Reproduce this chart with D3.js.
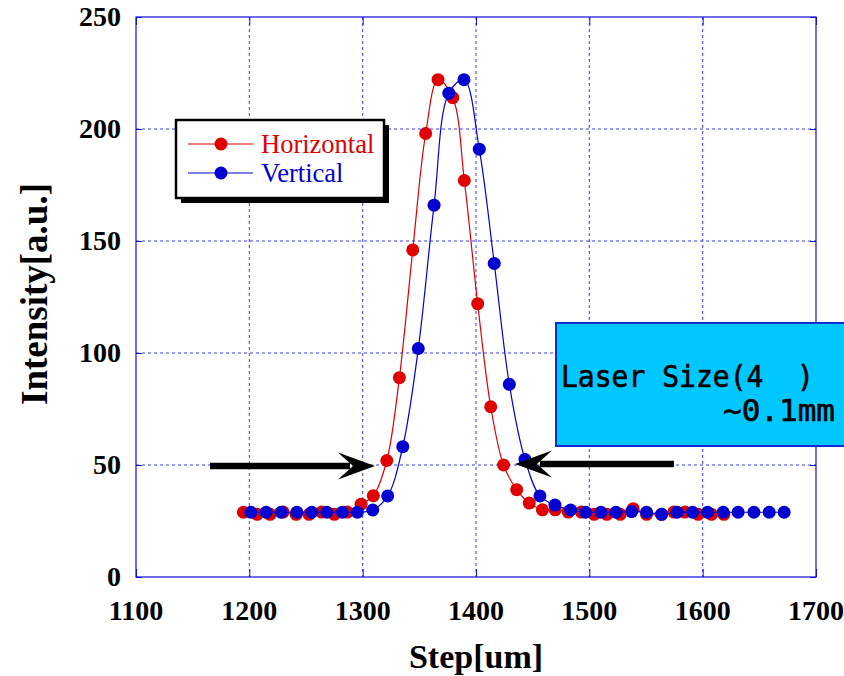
<!DOCTYPE html>
<html lang="en">
<head>
    <meta charset="UTF-8">
    <title>Laser profile</title>
    <script src="https://d3js.org/d3.v7.min.js"></script>
<style>
    body { margin: 0; background: #fff; }
    .tick-label { font-family: "Liberation Serif", serif; font-weight: bold; font-size: 28px; fill: #000; }
    .title { font-family: "Liberation Serif", serif; font-weight: bold; fill: #000; }
    .grid { stroke: #3a3aff; stroke-width: 1; stroke-dasharray: 3,3; }
    .frame { fill: none; stroke: #1010e0; stroke-width: 1.2; }
</style>
</head>
<body>
    <svg id="canvas" width="844" height="676"></svg>

    <script>
        // values
        var xTicks = [1100, 1200, 1300, 1400, 1500, 1600, 1700];
        var yTicks = [0, 50, 100, 150, 200, 250];

        var redStep = [1194.8, 1206.9, 1218.3, 1229.8, 1241.3, 1252.7, 1263.9, 1275.0, 1286.5, 1298.6,
                       1309.4, 1321.3, 1332.4, 1344.2, 1355.6, 1366.5, 1379.5, 1389.7, 1401.5, 1413.0,
                       1424.3, 1435.9, 1447.0, 1458.6, 1469.9, 1481.4, 1492.9, 1504.3, 1515.5, 1527.2,
                       1538.7, 1550.5, 1563.7, 1574.6, 1584.3, 1596.0, 1607.8, 1618.7];
        var redIntensity = [28.9, 28.0, 28.0, 29.0, 28.0, 28.0, 29.0, 28.0, 29.0, 32.5,
                            36.3, 52.0, 89.0, 146.0, 198.0, 222.0, 214.0, 177.0, 122.0, 76.0,
                            50.0, 39.0, 33.0, 30.0, 30.0, 29.0, 29.0, 28.0, 28.0, 28.0,
                            30.5, 28.0, 28.0, 29.0, 29.0, 28.0, 28.0, 28.0];

        var blueStep = [1201.3, 1214.8, 1228.0, 1241.9, 1255.1, 1268.3, 1282.1, 1295.3, 1308.9, 1322.1,
                        1335.4, 1349.1, 1363.0, 1376.0, 1389.4, 1402.9, 1416.1, 1429.4, 1443.2, 1456.4,
                        1469.7, 1483.5, 1496.7, 1510.2, 1523.5, 1537.3, 1550.5, 1563.8, 1577.5, 1591.1,
                        1604.3, 1618.1, 1631.3, 1645.2, 1658.7, 1671.9];
        var blueIntensity = [28.9, 28.9, 28.9, 28.9, 28.9, 28.9, 28.9, 28.9, 29.9, 36.2,
                             58.2, 102.0, 166.0, 216.0, 222.0, 191.0, 140.0, 86.0, 52.5, 36.2,
                             32.1, 29.9, 28.9, 28.9, 28.9, 29.2, 28.9, 28.0, 28.9, 28.9,
                             28.9, 28.9, 28.9, 28.9, 28.9, 28.9];

        var seriesNames = ["Horizontal", "Vertical"];
        var seriesColors = ["#e00000", "#0000d0"];

        var svg = d3.select('svg');

        var plotLeft = 136, plotRight = 816, plotTop = 17, plotBottom = 577;

        var x = d3.scaleLinear().domain([1100, 1700]).range([plotLeft, plotRight]);
        var y = d3.scaleLinear().domain([0, 250]).range([plotBottom, plotTop]);

        // grid
        svg.selectAll(".gx").data(xTicks.slice(1, -1)).enter().append("line")
            .attr("class", "grid")
            .attr("x1", function(d){return x(d);}).attr("x2", function(d){return x(d);})
            .attr("y1", plotTop).attr("y2", plotBottom);
        svg.selectAll(".gy").data(yTicks.slice(1, -1)).enter().append("line")
            .attr("class", "grid")
            .attr("y1", function(d){return y(d);}).attr("y2", function(d){return y(d);})
            .attr("x1", plotLeft).attr("x2", plotRight);

        // axes with inner ticks
        var axB = svg.append("g").attr("transform", "translate(0," + plotBottom + ")")
            .call(d3.axisTop(x).tickValues(xTicks).tickSize(8).tickFormat(""));
        var axT = svg.append("g").attr("transform", "translate(0," + plotTop + ")")
            .call(d3.axisBottom(x).tickValues(xTicks).tickSize(8).tickFormat(""));
        var axL = svg.append("g").attr("transform", "translate(" + plotLeft + ",0)")
            .call(d3.axisRight(y).tickValues(yTicks).tickSize(6).tickFormat(""));
        var axR = svg.append("g").attr("transform", "translate(" + plotRight + ",0)")
            .call(d3.axisLeft(y).tickValues(yTicks).tickSize(6).tickFormat(""));
        [axB, axT, axL, axR].forEach(function(a){
            a.select(".domain").remove();
            a.selectAll("line").attr("stroke", "#1010e0");
        });

        svg.append("rect").attr("class", "frame")
            .attr("x", plotLeft).attr("y", plotTop)
            .attr("width", plotRight - plotLeft).attr("height", plotBottom - plotTop);

        // tick labels
        svg.selectAll(".xl").data(xTicks).enter().append("text")
            .attr("class", "tick-label")
            .attr("x", function(d){return x(d);}).attr("y", 620)
            .attr("text-anchor", "middle")
            .text(function(d){return d;});
        svg.selectAll(".yl").data(yTicks).enter().append("text")
            .attr("class", "tick-label")
            .attr("x", 121).attr("y", function(d){return y(d) + 9;})
            .attr("text-anchor", "end")
            .text(function(d){return d;});

        // titles
        svg.append("text").attr("class", "title")
            .attr("x", 476).attr("y", 668).attr("text-anchor", "middle")
            .attr("font-size", "34px")
            .text("Step[um]");
        svg.append("text").attr("class", "title")
            .attr("transform", "translate(47,294) rotate(-90)")
            .attr("text-anchor", "middle")
            .attr("font-size", "37px")
            .text("Intensity[a.u.]");

        // series
        var series = [
            {name: seriesNames[0], color: seriesColors[0], xs: redStep, ys: redIntensity},
            {name: seriesNames[1], color: seriesColors[1], xs: blueStep, ys: blueIntensity}
        ];

        var line = d3.line()
            .x(function(d){return x(d[0]);})
            .y(function(d){return y(d[1]);})
            .curve(d3.curveCatmullRom.alpha(0.5));

        series.forEach(function(s){
            var pts = s.xs.map(function(v, i){return [v, s.ys[i]];});
            svg.append("path")
                .attr("d", line(pts))
                .attr("fill", "none")
                .attr("stroke", s.color)
                .attr("stroke-width", 1.2);
            svg.append("g").selectAll("circle").data(pts).enter().append("circle")
                .attr("cx", function(d){return x(d[0]);})
                .attr("cy", function(d){return y(d[1]);})
                .attr("r", 6.5)
                .attr("fill", s.color);
        });

        // legend
        var lg = svg.append("g");
        lg.append("rect").attr("x", 181).attr("y", 125).attr("width", 208).attr("height", 78).attr("fill", "#000");
        lg.append("rect").attr("x", 176).attr("y", 120).attr("width", 208).attr("height", 78)
            .attr("fill", "#fff").attr("stroke", "#000").attr("stroke-width", 2.5);
        series.forEach(function(s, i){
            var ly = 144 + i * 29;
            lg.append("line").attr("x1", 188).attr("x2", 253).attr("y1", ly).attr("y2", ly)
                .attr("stroke", s.color).attr("stroke-width", 1.2);
            lg.append("circle").attr("cx", 221).attr("cy", ly).attr("r", 6.5).attr("fill", s.color);
            lg.append("text").attr("x", 261).attr("y", ly + 9)
                .attr("font-family", "Liberation Serif, serif").attr("font-size", "26.5px")
                .attr("fill", s.color).text(s.name);
        });

        // annotation box
        svg.append("rect").attr("x", 556).attr("y", 323).attr("width", 300).attr("height", 123)
            .attr("fill", "#00c8ff").attr("stroke", "#0a2fd0").attr("stroke-width", 2);
        svg.append("text").attr("x", 561).attr("y", 387)
            .style("white-space", "pre")
            .attr("font-family", "DejaVu Sans Mono, monospace").attr("font-size", "30px")
            .attr("stroke", "#000").attr("stroke-width", 0.6)
            .attr("textLength", 253).attr("lengthAdjust", "spacingAndGlyphs")
            .attr("fill", "#000").text("Laser Size(4  )");
        svg.append("text").attr("x", 723).attr("y", 421)
            .style("white-space", "pre")
            .attr("font-family", "DejaVu Sans Mono, monospace").attr("font-size", "30px")
            .attr("stroke", "#000").attr("stroke-width", 0.6)
            .attr("textLength", 112).attr("lengthAdjust", "spacingAndGlyphs")
            .attr("fill", "#000").text("~0.1mm");

        // arrows
        function arrow(x0, x1, yy, dir) {
            svg.append("line").attr("x1", x0).attr("x2", x1 - dir * 25).attr("y1", yy).attr("y2", yy)
                .attr("stroke", "#000").attr("stroke-width", 6.5);
            var tip = x1, back = x1 - dir * 37, notch = x1 - dir * 22;
            svg.append("path")
                .attr("d", "M" + tip + "," + yy + " L" + back + "," + (yy - 13.5) +
                           " L" + notch + "," + yy + " L" + back + "," + (yy + 13.5) + " Z")
                .attr("fill", "#000");
        }
        arrow(210, 375, 466, 1);
        arrow(674, 515, 464, -1);
    </script>
</body>
</html>
